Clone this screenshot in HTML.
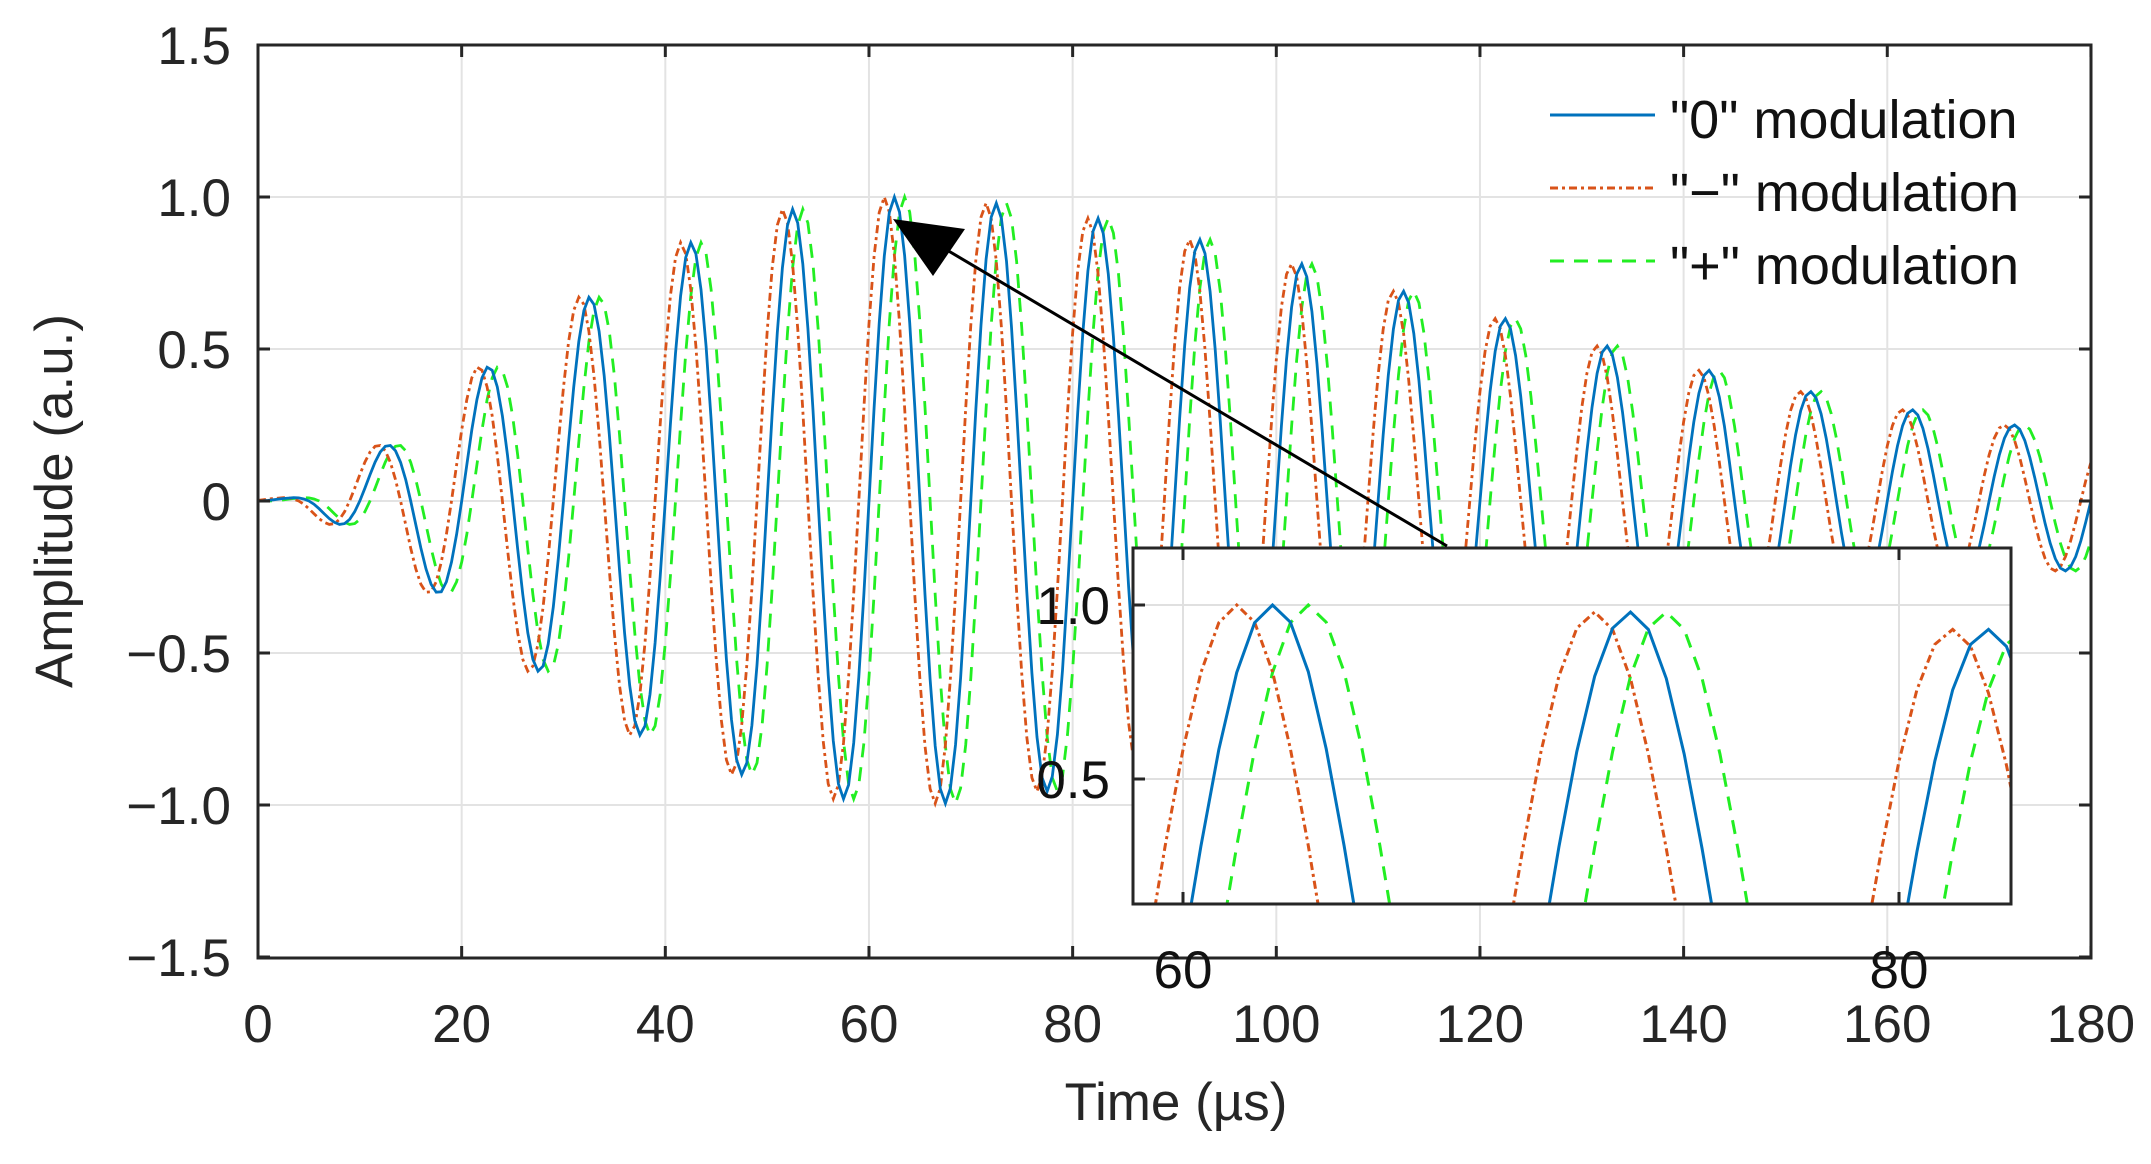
<!DOCTYPE html>
<html><head><meta charset="utf-8"><style>
html,body{margin:0;padding:0;background:#fff;overflow:hidden;width:2151px;height:1164px;}
svg{display:block;font-family:"Liberation Sans",Arial,sans-serif;}
</style></head><body>
<svg id="s" width="2151" height="1164" viewBox="0 0 2151 1164" xmlns="http://www.w3.org/2000/svg">
<rect width="2151" height="1164" fill="#fff"/>
<g id="grid" stroke="#e3e3e3" stroke-width="2"></g>
<defs>
<clipPath id="mc"><rect x="258" y="45" width="1833" height="913"/></clipPath>
<clipPath id="ic"><rect x="1133" y="548" width="878" height="356"/></clipPath>
</defs>
<g id="main" clip-path="url(#mc)" fill="none" stroke-width="2.8"></g>
<rect x="258" y="45" width="1833" height="913" fill="none" stroke="#262626" stroke-width="3"/>
<g id="ticks" stroke="#262626" stroke-width="3"></g>
<g id="labels" font-size="53" fill="#262626"></g>
<text x="72" y="501" font-size="53" fill="#262626" text-anchor="middle" transform="rotate(-90 72 501)">Amplitude (a.u.)</text>
<text x="1176" y="1120" font-size="53" fill="#262626" text-anchor="middle">Time (µs)</text>
<line x1="1550" y1="115" x2="1655" y2="115" stroke="#0072BD" stroke-width="3"/>
<line x1="1550" y1="188" x2="1655" y2="188" stroke="#D95319" stroke-width="3" stroke-dasharray="8,4,3,4"/>
<line x1="1550" y1="261" x2="1655" y2="261" stroke="#22ee22" stroke-width="3" stroke-dasharray="14,10"/>
<g font-size="54" fill="#111">
<text x="1670" y="138">"0" modulation</text>
<text x="1670" y="211">"−" modulation</text>
<text x="1670" y="284">"+" modulation</text>
</g>
<rect x="1133" y="548" width="878" height="356" fill="#fff"/>
<g id="igrid" stroke="#e0e0e0" stroke-width="2"></g>
<g id="inset" clip-path="url(#ic)" fill="none" stroke-width="3"></g>
<rect x="1133" y="548" width="878" height="356" fill="none" stroke="#262626" stroke-width="3"/>
<g stroke="#262626" stroke-width="3">
<line x1="1133" y1="605" x2="1145" y2="605"/><line x1="1133" y1="779" x2="1145" y2="779"/>
<line x1="1183" y1="904" x2="1183" y2="892"/><line x1="1183" y1="548" x2="1183" y2="560"/>
<line x1="1899" y1="904" x2="1899" y2="892"/><line x1="1899" y1="548" x2="1899" y2="560"/>
</g>
<g font-size="53" fill="#111">
<text x="1110" y="624" text-anchor="end">1.0</text>
<text x="1110" y="798" text-anchor="end">0.5</text>
<text x="1183" y="988" text-anchor="middle">60</text>
<text x="1899" y="988" text-anchor="middle">80</text>
</g>
<line x1="1447" y1="546" x2="930" y2="240" stroke="#000" stroke-width="3"/>
<polygon points="893,219 965,229 933,276" fill="#000"/>
</svg>
<script>
var NS="http://www.w3.org/2000/svg";
function el(p,t,a){var e=document.createElementNS(NS,t);for(var k in a)e.setAttribute(k,a[k]);p.appendChild(e);return e;}
var X=function(t){return 258+t*10.183;}, Y=function(v){return 501-v*304;};
var g=document.getElementById('grid'),tk=document.getElementById('ticks'),lb=document.getElementById('labels');
for(var t=0;t<=180;t+=20){var x=X(t);if(t>0&&t<180)el(g,'line',{x1:x,y1:45,x2:x,y2:958});
el(tk,'line',{x1:x,y1:958,x2:x,y2:946});el(tk,'line',{x1:x,y1:45,x2:x,y2:57});
var tx=el(lb,'text',{x:x,y:1042,'text-anchor':'middle'});tx.textContent=t;}
var yl=["1.5","1.0","0.5","0","−0.5","−1.0","−1.5"];
for(var i=0;i<7;i++){var v=1.5-0.5*i,y=Y(v);if(i>0&&i<6)el(g,'line',{x1:258,y1:y,x2:2091,y2:y});
el(tk,'line',{x1:258,y1:y,x2:270,y2:y});el(tk,'line',{x1:2091,y1:y,x2:2079,y2:y});
var tx=el(lb,'text',{x:231,y:y+19,'text-anchor':'end'});tx.textContent=yl[i];}
var E=[[0,0],[3,0.01],[5,0.025],[7.5,0.07],[12.5,0.18],[17.5,0.3],[22.5,0.44],[27.5,0.56],[32.5,0.67],[37.5,0.77],[42.5,0.85],[47.5,0.9],[52.5,0.96],[57.5,0.98],[62.5,1.0],[67.5,0.995],[72.5,0.98],[82.5,0.93],[92.5,0.86],[102.5,0.78],[112.5,0.69],[122.5,0.6],[132.5,0.51],[142.5,0.43],[152.5,0.36],[162.5,0.3],[172.5,0.25],[185,0.2]];
function env(t){if(t<=0)return 0;for(var i=1;i<E.length;i++){if(t<=E[i][0]){var a=E[i-1],b=E[i];return a[1]+(b[1]-a[1])*(t-a[0])/(b[0]-a[0]);}}return 0.2;}
function sig(t,s){var u=t-s;return env(u)*Math.sin(2*Math.PI*u/10);}
var series=[{s:1,c:'#22ee22',d:'14,10'},{s:-1,c:'#D95319',d:'8,4,3,4'},{s:0,c:'#0072BD',d:''}];
var m=document.getElementById('main'),ins=document.getElementById('inset');
var IX=function(t){return 1183+(t-60)*35.8;},IY=function(v){return 605-(v-1)*348;};
var ig=document.getElementById('igrid');
el(ig,'line',{x1:1133,y1:605,x2:2011,y2:605});el(ig,'line',{x1:1133,y1:779,x2:2011,y2:779});
el(ig,'line',{x1:1183,y1:548,x2:1183,y2:904});el(ig,'line',{x1:1899,y1:548,x2:1899,y2:904});
series.forEach(function(S){var p="",q="";
for(var k=0;k<=360;k++){var t=k*0.5,v=sig(t,S.s);p+=(k?"L":"M")+X(t).toFixed(1)+" "+Y(v).toFixed(1);
if(t>=57&&t<=85)q+=(q?"L":"M")+IX(t).toFixed(1)+" "+IY(v).toFixed(1);}
var a={d:p,stroke:S.c};if(S.d)a['stroke-dasharray']=S.d;el(m,'path',a);
var b={d:q,stroke:S.c};if(S.d)b['stroke-dasharray']=S.d;el(ins,'path',b);});
</script>
</body></html>
